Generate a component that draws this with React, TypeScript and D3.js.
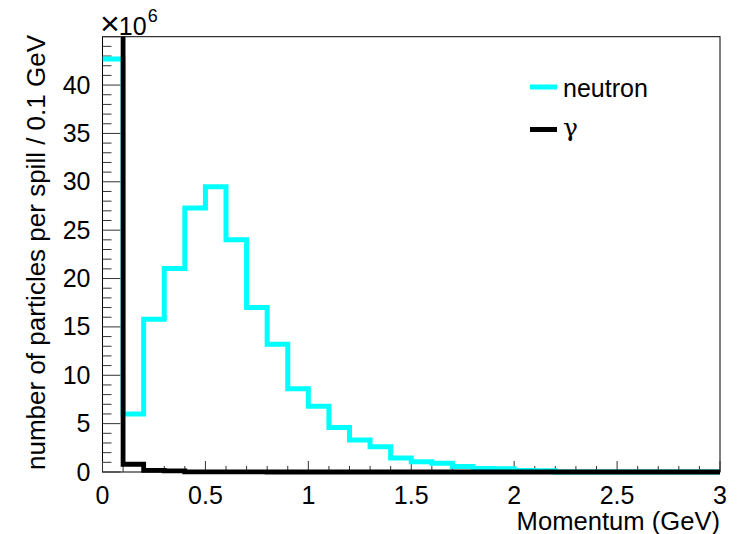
import React from "react";
import * as d3 from "d3";

// Bin edges: 0 to 3 GeV in 0.1 GeV steps (30 bins)
const binWidth = 0.1;
const nBins = 30;

// Values in units of 10^6 particles per spill per 0.1 GeV
const neutron = [
  42.7, 6.0, 15.8, 21.05, 27.3, 29.5, 24.0, 17.0, 13.2, 8.6,
  6.8, 4.6, 3.3, 2.6, 1.45, 1.05, 0.9, 0.57, 0.36, 0.33,
  0.15, 0.12, 0, 0, 0, 0, 0, 0, 0, 0,
];
const gamma = [
  500, 0.8, 0.17, 0.12, 0.02, 0.02, 0.01, 0.01, 0, 0,
  0, 0, 0, 0, 0, 0, 0, 0, 0, 0,
  0, 0, 0, 0, 0, 0, 0, 0, 0, 0,
];

const xMajorTicks = [0, 0.5, 1, 1.5, 2, 2.5, 3];
const xTickLabels = ["0", "0.5", "1", "1.5", "2", "2.5", "3"];
const yMajorTicks = [0, 5, 10, 15, 20, 25, 30, 35, 40];
const yTickLabels = ["0", "5", "10", "15", "20", "25", "30", "35", "40"];

const seriesNames = ["neutron", "γ"];
const seriesColors = ["#00ffff", "#000000"];

const xTitle = "Momentum (GeV)";
const yTitle = "number of particles per spill / 0.1 GeV";

export default function App() {
  const W = 737;
  const H = 534;
  const left = 102.5;
  const right = 720;
  const top = 36.7;
  const bottom = 472;

  const x = d3.scaleLinear().domain([0, 3]).range([left, right]);
  const y = d3.scaleLinear().domain([0, 45]).range([bottom, top]);

  const stepPath = (vals: number[]) => {
    const pts: [number, number][] = vals.map((v, i) => [i * binWidth, v]);
    pts.push([nBins * binWidth, vals[vals.length - 1]]);
    return d3
      .line<[number, number]>()
      .x((d) => x(d[0]))
      .y((d) => y(d[1]))
      .curve(d3.curveStepAfter)(pts) as string;
  };

  const xMinor = d3.range(0, 31).map((i) => i * 0.1);
  const yMinor = d3.range(0, 46);

  const font = "'Liberation Sans', Arial, Helvetica, sans-serif";

  return (
    <svg width={W} height={H} style={{ display: "block", position: "absolute", left: 0, top: 0 }}>
      <rect x={0} y={0} width={W} height={H} fill="#fff" />
      <defs>
        <clipPath id="plotClip">
          <rect x={left} y={top} width={right - left} height={bottom - top + 6} />
        </clipPath>
      </defs>

      {/* frame */}
      <rect x={left} y={top} width={right - left} height={bottom - top} fill="none" stroke="#000" strokeWidth={1} />

      {/* y axis ticks */}
      {yMinor.map((v) => (
        <line key={"ym" + v} x1={left} x2={left + (v % 5 === 0 ? 18 : 9)} y1={y(v)} y2={y(v)} stroke="#333" strokeWidth={1} />
      ))}
      {/* x axis ticks */}
      {xMinor.map((v, i) => (
        <line key={"xm" + i} x1={x(v)} x2={x(v)} y1={bottom} y2={bottom - (i % 5 === 0 ? 11 : 6)} stroke="#333" strokeWidth={1} />
      ))}

      {/* histograms */}
      <g clipPath="url(#plotClip)">
        <path d={stepPath(neutron)} fill="none" stroke={seriesColors[0]} strokeWidth={5} strokeLinejoin="miter" />
        <path d={stepPath(gamma)} fill="none" stroke={seriesColors[1]} strokeWidth={4.8} strokeLinejoin="miter" />
      </g>

      {/* y tick labels */}
      {yMajorTicks.map((v, i) => (
        <text key={"yl" + v} x={90.5} y={y(v) + 8.5} textAnchor="end" fontFamily={font} fontSize={25} fill="#000">
          {yTickLabels[i]}
        </text>
      ))}
      {/* x tick labels */}
      {xMajorTicks.map((v, i) => (
        <text key={"xl" + v} x={x(v)} y={504} textAnchor="middle" fontFamily={font} fontSize={25} fill="#000">
          {xTickLabels[i]}
        </text>
      ))}

      {/* multiplier */}
      <text x={100} y={35} fontFamily={font} fill="#000">
        <tspan fontSize={34}>×</tspan>
        <tspan fontSize={25} dx={-1}>10</tspan>
        <tspan fontSize={18} dx={1} dy={-13}>6</tspan>
      </text>

      {/* axis titles */}
      <text x={right} y={530} textAnchor="end" fontFamily={font} fontSize={25.6} fill="#000">
        {xTitle}
      </text>
      <text transform={`translate(45, 35) rotate(-90)`} textAnchor="end" fontFamily={font} fontSize={26} fill="#000">
        {yTitle}
      </text>

      {/* legend */}
      {seriesNames.map((name, i) => (
        <g key={name}>
          <line x1={530} x2={557} y1={87 + i * 42.5} y2={87 + i * 42.5} stroke={seriesColors[i]} strokeWidth={5} />
          <text
            x={563}
            y={97 + i * 39}
            fontFamily={i === 1 ? "'DejaVu Serif', 'Liberation Serif', serif" : font}
            fontSize={25}
            fill="#000"
          >
            {name}
          </text>
        </g>
      ))}
    </svg>
  );
}
